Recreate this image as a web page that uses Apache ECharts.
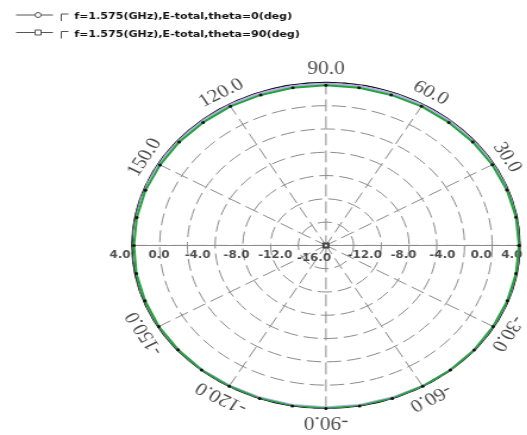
<!DOCTYPE html>
<html>
<head>
<meta charset="utf-8">
<script src="https://cdn.jsdelivr.net/npm/echarts@6/dist/echarts.min.js"></script>
<style>
html,body{margin:0;padding:0;width:527px;height:435px;overflow:hidden;background:#fff;}
#chart{position:absolute;left:0;top:0;width:443px;height:435px;transform:scaleX(1.19);transform-origin:0 0;}
</style>
</head>
<body>
<div id="chart"></div>
<script>
// ---- data ----
const seriesNames = [
  'f=1.575(GHz),E-total,theta=0(deg)',
  'f=1.575(GHz),E-total,theta=90(deg)'
];
const phiDeg = [0,10,20,30,40,50,60,70,80,90,100,110,120,130,140,150,160,170,180,
                190,200,210,220,230,240,250,260,270,280,290,300,310,320,330,340,350,360];
const gainTheta0 = [3.9,3.9,3.85,3.8,3.75,3.7,3.7,3.65,3.65,3.65,3.65,3.65,3.7,3.7,3.75,3.75,3.8,3.8,3.8,
                    3.85,3.85,3.9,3.9,3.95,3.95,4.0,4.0,4.0,4.0,4.0,3.95,3.95,3.95,3.9,3.9,3.9,3.9];
const gainTheta90 = [4.15,4.15,4.1,4.05,4.0,3.95,3.9,3.9,3.85,3.85,3.85,3.9,3.9,3.95,4.0,4.0,4.1,4.15,4.2,
                     4.2,4.15,4.1,4.0,3.95,3.9,3.9,3.9,3.9,3.9,3.9,3.95,4.0,4.05,4.1,4.15,4.15,4.15];
const radialTicks = [-16,-12,-8,-4,0,4];
const angleTicks = [30,60,90,120,150,-150,-120,-90,-60,-30];
const ringCount = 7;
const rMin = -16, rMax = 4;

// ---- layout / style ----
const CENTER = [273.9, 245.4];
const RADIUS = 163;
const LABEL_RADIUS = 176;

const iconCircle = 'path://M0,3H16M21,3H31M16,3A2.5,2.5 0 1,1 21,3A2.5,2.5 0 1,1 16,3M38,2H44M38,2V9';
const iconSquare = 'path://M0,3H16M21,3H31M16,0.5H21V5.5H16ZM38,2H44M38,2V9';

const chart = echarts.init(document.getElementById('chart'), null, {renderer:'canvas'});

const angleLabelData = angleTicks.map(a => ({
  value: [1, a],
  name: a.toFixed(1),
  label: { rotate: a - 90 }
}));

const radialLabelData = [];
radialTicks.forEach(v => {
  const txt = v.toFixed(1);
  radialLabelData.push({ value: [v, 180], name: txt, label: { offset: [-10, 0] },
    symbol: v === rMin ? 'emptyRect' : 'circle', symbolSize: v === rMin ? 4 : 0 });
  if (v !== rMin) {
    radialLabelData.push({ value: [v, 0], name: txt, symbolSize: 0,
      label: v === rMax ? { align: 'right', offset: [2, 0] } : {} });
  }
});

const hidden = { axisLine:{show:false}, axisTick:{show:false}, axisLabel:{show:false}, splitLine:{show:false} };

const option = {
  animation: false,
  backgroundColor: '#fff',
  legend: {
    orient: 'vertical',
    left: 8, top: 7,
    itemGap: 8,
    itemWidth: 44, itemHeight: 8.5,
    selectedMode: false,
    data: [
      { name: seriesNames[0], icon: iconCircle },
      { name: seriesNames[1], icon: iconSquare }
    ],
    itemStyle: { color: 'transparent', borderColor: '#555', borderWidth: 1 },
    textStyle: { fontFamily: 'DejaVu Sans', fontWeight: 'bold', fontSize: 9.3, color: '#111' }
  },
  polar: [
    { center: CENTER, radius: RADIUS },
    { center: CENTER, radius: RADIUS },
    { center: CENTER, radius: LABEL_RADIUS }
  ],
  angleAxis: [
    { polarIndex: 0, type: 'value', min: 0, max: 360, interval: 30, startAngle: 180, clockwise: false,
      axisLine: { show: true, lineStyle: { color: '#111', width: 1.3 } },
      axisTick: { show: false }, axisLabel: { show: false },
      splitLine: { show: true, lineStyle: { color: '#8c8c8c', width: 1, type: [12, 5] } } },
    Object.assign({ polarIndex: 1, type: 'value', min: 0, max: 360, startAngle: 0, clockwise: false }, hidden),
    Object.assign({ polarIndex: 2, type: 'value', min: -180, max: 180, startAngle: 180, clockwise: false }, hidden)
  ],
  radiusAxis: [
    { polarIndex: 0, type: 'value', min: 0, max: ringCount, interval: 1,
      axisLine: { show: true, lineStyle: { color: '#8c8c8c', width: 1 } },
      axisTick: { show: false }, axisLabel: { show: false },
      splitLine: { show: true, lineStyle: { color: '#8c8c8c', width: 1, type: [12, 5] } } },
    { polarIndex: 1, type: 'value', min: rMin, max: rMax,
      axisLine: { show: true, lineStyle: { color: '#8c8c8c', width: 1 } },
      axisTick: { show: false }, axisLabel: { show: false }, splitLine: { show: false } },
    Object.assign({ polarIndex: 2, type: 'value', min: 0, max: 1 }, hidden)
  ],
  series: [
    {
      name: seriesNames[1], type: 'line', coordinateSystem: 'polar', polarIndex: 1,
      data: phiDeg.map((p, i) => [gainTheta90[i], p]),
      symbol: 'none', clip: false,
      lineStyle: { color: '#b5aee6', width: 2.5 },
      itemStyle: { color: '#b5aee6' }, z: 3
    },
    {
      name: seriesNames[0], type: 'line', coordinateSystem: 'polar', polarIndex: 1,
      data: phiDeg.map((p, i) => [gainTheta0[i], p]),
      symbol: 'circle', symbolSize: 3, showAllSymbol: true, clip: false,
      lineStyle: { color: '#22a33c', width: 2 },
      itemStyle: { color: '#111' }, z: 4
    },
    {
      type: 'scatter', coordinateSystem: 'polar', polarIndex: 2,
      data: angleLabelData, symbolSize: 0, silent: true, clip: false,
      label: { show: true, position: 'inside', formatter: '{b}',
        fontFamily: 'Liberation Serif', fontSize: 18, color: '#222' }
    },
    {
      type: 'scatter', coordinateSystem: 'polar', polarIndex: 1,
      data: radialLabelData, silent: true, clip: false,
      itemStyle: { color: '#222', borderColor: '#222' },
      label: { show: true, position: 'bottom', distance: 5, formatter: '{b}',
        fontFamily: 'DejaVu Sans', fontWeight: 'bold', fontSize: 10, color: '#222' }
    }
  ]
};
chart.setOption(option);
</script>
</body>
</html>
